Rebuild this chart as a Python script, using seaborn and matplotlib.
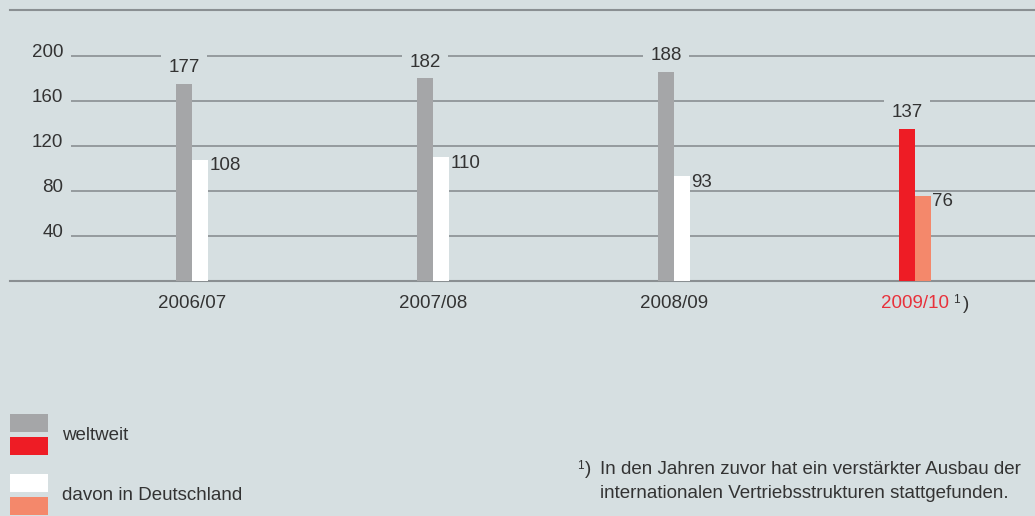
import matplotlib.pyplot as plt
import pandas as pd
import seaborn as sns

jahre = ["2006/07", "2007/08", "2008/09", "2009/10"]
weltweit = [177, 182, 188, 137]
deutschland = [108, 110, 93, 76]
serien = ["weltweit", "davon in Deutschland"]
y_ticks = [40, 80, 120, 160, 200]

BG = "#d6dfe1"
GRAU = "#a5a6a8"
WEISS = "#ffffff"
ROT = "#ee1c25"
LACHS = "#f4886b"
TEXT = "#333333"
LINIE = "#8a8f92"
FS = 13.5

df = pd.DataFrame({
    "Jahr": jahre * 2,
    "Wert": weltweit + deutschland,
    "Serie": [serien[0]] * 4 + [serien[1]] * 4,
})

plt.rcParams["font.family"] = ["Liberation Sans", "DejaVu Sans"]

fig = plt.figure(figsize=(10.35, 5.16), dpi=100, facecolor=BG)
ax = fig.add_axes([10 / 1035, 1 - 281 / 516, 1 - 10 / 1035, (281 - 10) / 516])
ax.set_facecolor(BG)

sns.barplot(data=df, x="Jahr", y="Wert", hue="Serie", palette=[GRAU, WEISS],
            width=0.133, dodge=True, saturation=1, linewidth=0, legend=False,
            ax=ax, zorder=3)

# letztes Jahr farbig hervorheben
ax.containers[0][3].set_facecolor(ROT)
ax.containers[1][3].set_facecolor(LACHS)

ax.set_xlim(-0.755, 3.498)
ax.set_ylim(0, 241)

for s in ["left", "right"]:
    ax.spines[s].set_visible(False)
for s in ["top", "bottom"]:
    ax.spines[s].set_color(LINIE)
    ax.spines[s].set_linewidth(1.5)

ax.hlines(y_ticks, -0.5, 3.498, color=LINIE, linewidth=1.2, zorder=1)
ax.set_yticks([])
for t in y_ticks:
    ax.text(-0.535, t + 3.5, str(t), ha="right", va="center", fontsize=FS, color=TEXT)

ax.set_xlabel("")
ax.set_ylabel("")
ax.tick_params(axis="x", length=0, pad=10, labelsize=FS, labelcolor=TEXT)
ax.set_xticks(range(len(jahre)))
ax.set_xticklabels(jahre)
last = ax.get_xticklabels()[-1]
last.set_color("#e8313b")
ax.annotate("1", xy=(1, 0.72), xycoords=last, xytext=(3, 0), textcoords="offset points",
            fontsize=8.5, color=TEXT, va="center", ha="left")
ax.annotate(")", xy=(1, 0.45), xycoords=last, xytext=(10, 0), textcoords="offset points",
            fontsize=FS, color=TEXT, va="center", ha="left")

# Werte beschriften
for p in ax.containers[0]:
    ax.annotate(f"{p.get_height():.0f}", xy=(p.get_x() + p.get_width() / 2, p.get_height()),
                xytext=(0, 4), textcoords="offset points", ha="center", va="bottom",
                fontsize=FS, color=TEXT, zorder=4,
                bbox=dict(boxstyle="square,pad=0.4", fc=BG, ec="none"))
for p in ax.containers[1]:
    ax.annotate(f"{p.get_height():.0f}", xy=(p.get_x() + p.get_width(), p.get_height()),
                xytext=(1, 1.5), textcoords="offset points", ha="left", va="top",
                fontsize=FS, color=TEXT, zorder=4)

# Legende
legende = [(GRAU, ROT, serien[0], 414), (WEISS, LACHS, serien[1], 474)]
for c1, c2, name, top in legende:
    fig.patches.append(plt.Rectangle((10 / 1035, 1 - (top + 18) / 516), 38 / 1035, 18 / 516,
                                     transform=fig.transFigure, fc=c1, ec="none"))
    fig.patches.append(plt.Rectangle((10 / 1035, 1 - (top + 41) / 516), 38 / 1035, 18 / 516,
                                     transform=fig.transFigure, fc=c2, ec="none"))
    fig.text(62 / 1035, 1 - (top + 22) / 516, name, fontsize=FS, color=TEXT, va="center")

# Fussnote
fig.text(577 / 1035, 1 - 466 / 516, "1", fontsize=8.5, color=TEXT, va="center")
fig.text(585 / 1035, 1 - 470 / 516, ")", fontsize=FS, color=TEXT, va="center")
fig.text(600 / 1035, 1 - 470 / 516, "In den Jahren zuvor hat ein verstärkter Ausbau der",
         fontsize=FS, color=TEXT, va="center")
fig.text(600 / 1035, 1 - 494 / 516, "internationalen Vertriebsstrukturen stattgefunden.",
         fontsize=FS, color=TEXT, va="center")

fig.savefig("out.png", dpi=100, facecolor=BG)
